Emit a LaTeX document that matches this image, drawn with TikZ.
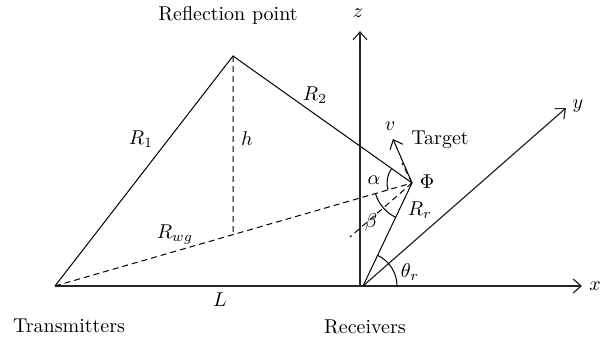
\documentclass[tikz,border=0pt]{standalone}
\usetikzlibrary{arrows.meta, calc}
\begin{document}
\begin{tikzpicture}[x=0.5pt, y=0.5pt, >={Straight Barb[length=4pt, width=7pt]}, line width=0.5pt]
  \useasboundingbox (0,0) rectangle (615,343);
  \tikzset{eje/.style={->, line width=0.6pt, black!85},
           raya/.style={dash pattern=on 3pt off 2pt}}
  % puntos principales: emisor, receptor, reflexion y blanco
  \coordinate (T) at (55,57);
  \coordinate (O) at (363,57);
  \coordinate (P) at (233,287);
  \coordinate (Phi) at (412,160);
  \coordinate (F) at (intersection cs: first line={(P)--($(P)+(0,-10)$)}, second line={(T)--(Phi)});
  \coordinate (D) at (350,106); \coordinate (K) at (402,180);
  % ejes
  \coordinate (Z0) at (360,57); \coordinate (Z) at (360,312);
  \coordinate (X) at (582,57); \coordinate (Y) at (566,235);
  \draw[eje] (T) -- (X);
  \draw[eje] (Z0) -- (Z);
  \draw[eje] (O) -- (Y);
  % trayectos directo y reflejado
  \draw (T) -- (P) -- (Phi) -- (O);
  \draw[raya] (P) -- (F); \draw[raya] (T) -- (Phi);
  \draw[raya] (Phi) -- (D); \draw[raya] (Phi) -- (K);
  \draw[->] (Phi) -- (393,204) coordinate (V);
  % angulos
  \draw ($(Phi)+(144.6:25)$) arc[start angle=144.6, end angle=196.1, radius=25];
  \draw ($(Phi)+(196.1:38)$) arc[start angle=196.1, end angle=244.6, radius=38];
  \draw ($(O)+(0:34)$) arc[start angle=0, end angle=64.6, radius=34];
  % rotulos
  \node (lrefl) at (228,328) {Reflection point};
  \node (ltx) at (69,17) {Transmitters};
  \node (lrx) at (365,16) {Receivers};
  \node (ltgt) at (440,203) {Target};
  \node (lz) at (358,330) {$z$}; \node (lx) at (595,57) {$x$}; \node (ly) at (578,237) {$y$};
  \node (lL) at (220,43) {$L$};
  \node (lR1) at (141,204) {$R_1$}; \node (lR2) at (315,248) {$R_2$};
  \node (lh) at (247,204) {$h$}; \node (lRwg) at (175,108) {$R_{wg}$};
  \node (lv) at (390,217) {$v$}; \node (lPhi) at (427,161) {$\Phi$};
  \node (la) at (374,163) {$\alpha$}; \node (lb) at (371,121) {$\beta$};
  \node (lRr) at (420,133) {$R_r$}; \node (lth) at (410,71) {$\theta_r$};
\end{tikzpicture}
\end{document}
